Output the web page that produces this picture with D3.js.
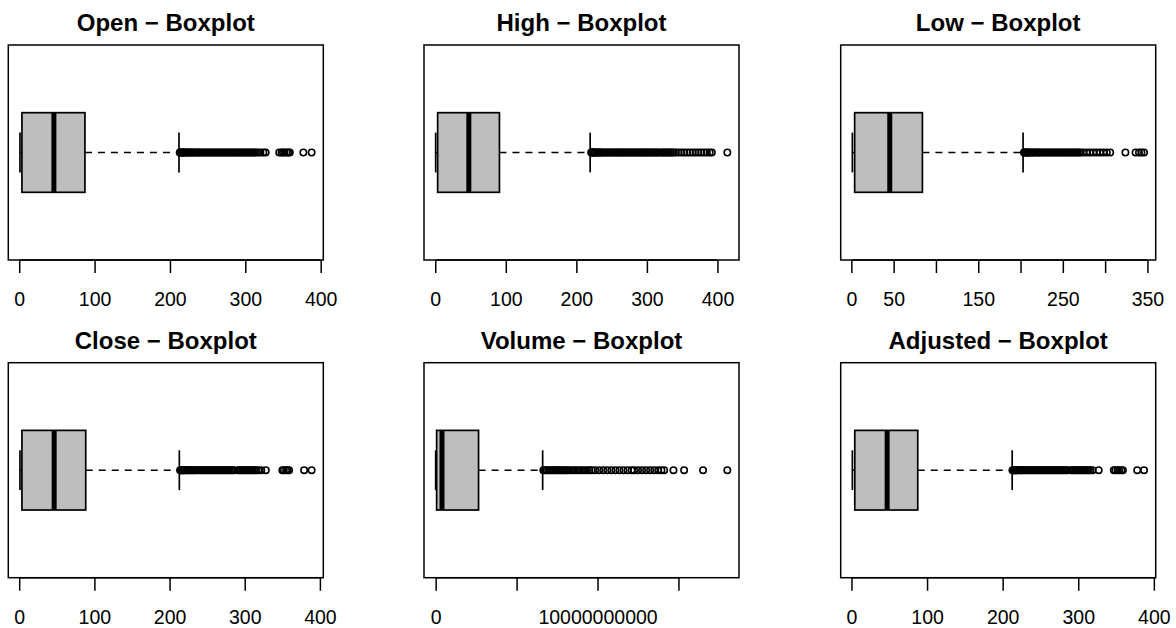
<!DOCTYPE html>
<html>
<head>
<meta charset="utf-8">
<script src="https://cdn.jsdelivr.net/npm/d3@7"></script>
<style>
  html, body { margin: 0; padding: 0; background: #fff; }
  svg text { font-family: "Liberation Sans", Arial, Helvetica, sans-serif; fill: #000; }
</style>
</head>
<body>
<svg id="chart" width="1176" height="628"></svg>
<script>
// Five-number summaries: [lower whisker, Q1, median, Q3, upper whisker]
const openStats   = [1.0, 3.6, 46.0, 87.2, 212.0];
const highStats   = [0.6, 3.4, 47.6, 91.0, 219.6];
const lowStats    = [1.2, 3.9, 45.4, 84.0, 203.0];
const closeStats  = [1.0, 3.6, 46.5, 88.5, 213.0];
const volumeStats = [0, 0.06e9, 0.39e9, 2.65e9, 6.61e9];
const adjStats    = [1.2, 4.4, 47.2, 87.7, 212.6];

// Points beyond the upper whisker
const openOut = [213,214,215,216,217,218,219,220,222,223,225,226,228,230,231,233,235,237,238,240,242,244,246,248,250,252,254,256,258,260,262,264,266,268,270,272,274,276,278,280,282,284,286,288,290,292,294,296,298,300,302,304,306,308,310,312,314,317,320,324,327,345,348,350,352,355,357,359,377,388];
const highOut = [221,222,223,224,225,226,228,229,231,232,234,235,237,239,241,243,245,247,249,251,253,255,257,259,261,263,265,267,269,271,273,275,277,279,281,283,285,287,289,291,293,295,297,299,301,303,305,307,309,311,313,315,317,320,322,324,326,328,330,332,334,336,338,341,345,349,353,357,361,365,369,373,377,381,385,389,392,414];
const lowOut = [204,205,206,207,208,209,210,212,213,215,216,218,220,221,223,225,227,229,231,233,235,237,239,241,243,245,247,249,251,253,255,257,259,261,263,265,267,269,271,274,278,282,286,290,294,298,302,306,324,336,340,343,346];
const closeOut = [214,215,216,217,218,219,220,221,223,224,226,227,229,231,232,234,236,238,240,242,244,246,248,250,252,254,256,258,260,262,264,266,268,270,272,274,276,278,280,282,284,286,291,293,295,297,299,301,303,305,307,309,311,313,315,318,322,328,350,352,355,357,359,379,389];
const volumeOut = [6.65e9,6.75e9,6.85e9,6.95e9,7.05e9,7.15e9,7.25e9,7.35e9,7.45e9,7.55e9,7.65e9,7.75e9,7.85e9,7.95e9,8.05e9,8.15e9,8.3e9,8.45e9,8.6e9,8.75e9,8.9e9,9.05e9,9.2e9,9.35e9,9.5e9,9.65e9,9.85e9,10.1e9,10.35e9,10.6e9,10.85e9,11.1e9,11.35e9,11.6e9,11.85e9,12.1e9,12.26e9,12.5e9,12.75e9,13.0e9,13.25e9,13.5e9,13.75e9,13.95e9,14.12e9,14.69e9,15.35e9,16.52e9,18.02e9];
const adjOut = [213,214,215,216,217,218,219,220,222,223,225,226,228,230,232,234,236,238,240,242,244,246,248,250,252,254,256,258,260,262,264,266,268,270,272,274,276,278,280,282,284,286,290,292,294,296,298,300,302,304,306,308,310,312,314,316,319,327,347,349,352,354,357,359,378,387];

// Axis ticks and their labels (empty label = tick without text)
const priceTicks = [0, 100, 200, 300, 400];
const priceTickLabels = ["0", "100", "200", "300", "400"];
const lowTicks = [0, 50, 100, 150, 200, 250, 300, 350];
const lowTickLabels = ["0", "50", "", "150", "", "250", "", "350"];
const volumeTicks = [0, 5e9, 1e10, 1.5e10];
const volumeTickLabels = ["0", "", "10000000000", ""];

const titles = ["Open − Boxplot", "High − Boxplot", "Low − Boxplot",
                "Close − Boxplot", "Volume − Boxplot", "Adjusted − Boxplot"];

const panels = [
  { title: titles[0], stats: openStats,   out: openOut,   ticks: priceTicks,  labels: priceTickLabels },
  { title: titles[1], stats: highStats,   out: highOut,   ticks: priceTicks,  labels: priceTickLabels },
  { title: titles[2], stats: lowStats,    out: lowOut,    ticks: lowTicks,    labels: lowTickLabels },
  { title: titles[3], stats: closeStats,  out: closeOut,  ticks: priceTicks,  labels: priceTickLabels },
  { title: titles[4], stats: volumeStats, out: volumeOut, ticks: volumeTicks, labels: volumeTickLabels },
  { title: titles[5], stats: adjStats,    out: adjOut,    ticks: priceTicks,  labels: priceTickLabels }
];

// Layout of the 2 x 3 grid of plot regions
const colLeft = [8.3, 424, 840.7];
const rowTop = [45, 362.7];
const plotW = 315, plotH = 215;

const svg = d3.select("#chart");

panels.forEach((p, i) => {
  const x0 = colLeft[i % 3], y0 = rowTop[Math.floor(i / 3)];
  const g = svg.append("g");

  // value axis padded 4% on each side of the data range
  const lo = Math.min(p.stats[0], d3.min(p.out));
  const hi = Math.max(p.stats[4], d3.max(p.out));
  const pad = (hi - lo) * 0.04;
  const x = d3.scaleLinear().domain([lo - pad, hi + pad]).range([x0, x0 + plotW]);
  // single box at position 1, plot spans 0.5..1.5 with 4% padding
  const y = d3.scaleLinear().domain([0.46, 1.54]).range([y0 + plotH, y0]);

  const boxHalf = 0.2, stapleHalf = 0.1;
  const [wlo, q1, med, q3, whi] = p.stats;

  // whiskers (dashed)
  g.selectAll("line.whisker").data([[wlo, q1], [q3, whi]]).enter().append("line")
    .attr("x1", d => x(d[0])).attr("x2", d => x(d[1]))
    .attr("y1", y(1)).attr("y2", y(1))
    .attr("stroke", "#000").attr("stroke-width", 1.6)
    .attr("stroke-dasharray", "7,6");

  // staples
  g.selectAll("line.staple").data([wlo, whi]).enter().append("line")
    .attr("x1", d => x(d)).attr("x2", d => x(d))
    .attr("y1", y(1 - stapleHalf)).attr("y2", y(1 + stapleHalf))
    .attr("stroke", "#000").attr("stroke-width", 1.7);

  // box
  g.append("rect")
    .attr("x", x(q1)).attr("width", x(q3) - x(q1))
    .attr("y", y(1 + boxHalf)).attr("height", y(1 - boxHalf) - y(1 + boxHalf))
    .attr("fill", "#bebebe").attr("stroke", "#000").attr("stroke-width", 1.7);

  // median
  g.append("line")
    .attr("x1", x(med)).attr("x2", x(med))
    .attr("y1", y(1 + boxHalf)).attr("y2", y(1 - boxHalf))
    .attr("stroke", "#000").attr("stroke-width", 5);

  // outliers
  g.selectAll("circle").data(p.out).enter().append("circle")
    .attr("cx", d => x(d)).attr("cy", y(1)).attr("r", 3.2)
    .attr("fill", "none").attr("stroke", "#000").attr("stroke-width", 1.6);

  // frame
  g.append("rect")
    .attr("x", x0).attr("y", y0).attr("width", plotW).attr("height", plotH)
    .attr("fill", "none").attr("stroke", "#000").attr("stroke-width", 1.5);

  // bottom axis
  const axis = d3.axisBottom(x).tickValues(p.ticks)
    .tickFormat((d, k) => p.labels[k]).tickSize(13).tickSizeOuter(0);
  const ax = g.append("g").attr("transform", `translate(0,${y0 + plotH})`).call(axis);
  ax.select(".domain").remove();
  ax.selectAll(".tick line").attr("stroke", "#000").attr("stroke-width", 1.5);
  ax.selectAll(".tick text")
    .attr("y", 46).attr("dy", 0)
    .style("font-size", "19.5px").style("font-family", '"Liberation Sans", Arial, sans-serif')
    .attr("fill", "#000");
  g.append("line")
    .attr("x1", x(p.ticks[0])).attr("x2", x(p.ticks[p.ticks.length - 1]))
    .attr("y1", y0 + plotH).attr("y2", y0 + plotH)
    .attr("stroke", "#000").attr("stroke-width", 1.5);

  // panel title
  g.append("text")
    .attr("x", x0 + plotW / 2).attr("y", y0 - 14)
    .attr("text-anchor", "middle")
    .style("font-size", "24px").style("font-weight", "bold")
    .text(p.title);
});
</script>
</body>
</html>
